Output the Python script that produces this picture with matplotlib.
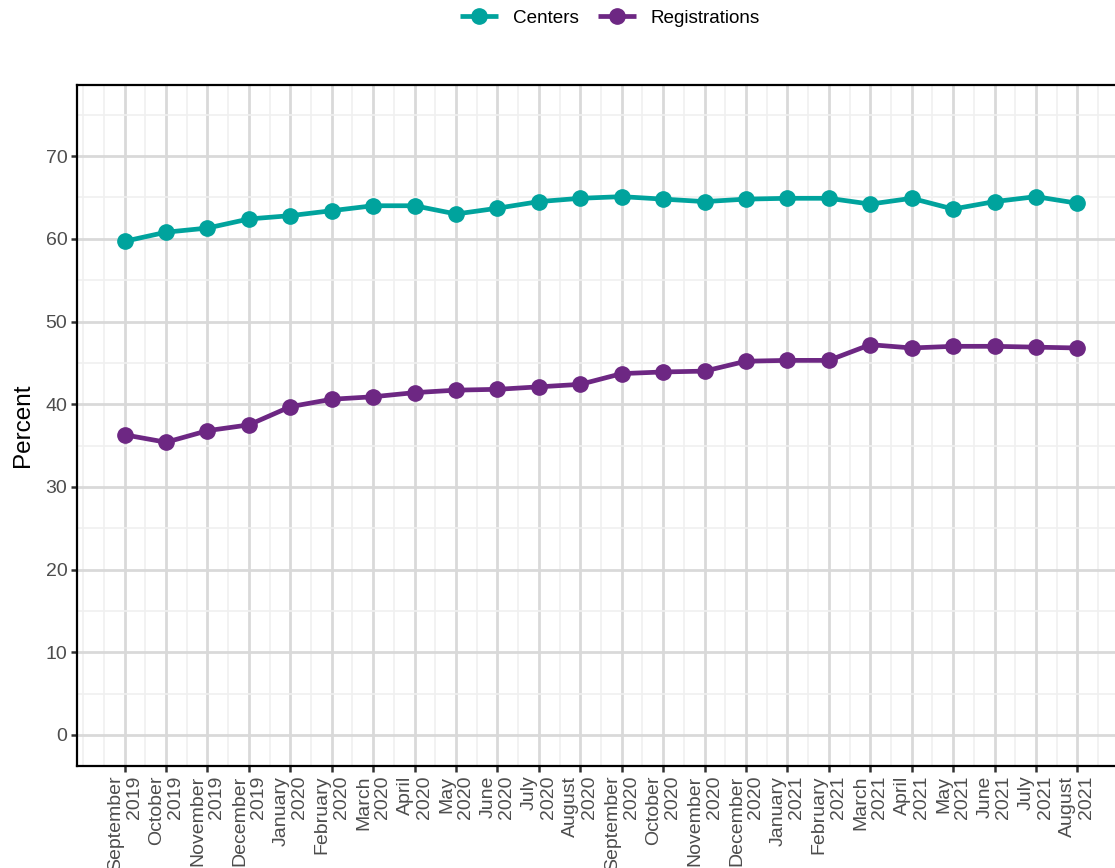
import numpy as np
import matplotlib
matplotlib.use("Agg")
import matplotlib.pyplot as plt
from matplotlib.ticker import FixedLocator

plt.rcParams['font.family'] = ['Liberation Sans', 'DejaVu Sans']

# month labels, two lines each
months = ["September", "October", "November", "December", "January", "February",
          "March", "April", "May", "June", "July", "August",
          "September", "October", "November", "December", "January", "February",
          "March", "April", "May", "June", "July", "August"]
years = ["2019"] * 4 + ["2020"] * 12 + ["2021"] * 8
tick_labels = [m + "\n" + y for m, y in zip(months, years)]

centers = [59.7, 60.8, 61.3, 62.4, 62.8, 63.4, 64.0, 64.0, 63.0, 63.7, 64.5, 64.9,
           65.1, 64.8, 64.5, 64.8, 64.9, 64.9, 64.2, 64.9, 63.6, 64.5, 65.1, 64.3]
registrations = [36.3, 35.4, 36.8, 37.5, 39.7, 40.6, 40.9, 41.4, 41.7, 41.8, 42.1, 42.4,
                 43.7, 43.9, 44.0, 45.2, 45.3, 45.3, 47.2, 46.8, 47.0, 47.0, 46.9, 46.8]

teal = "#00a39d"
purple = "#6d2783"

W, H = 1115, 868
fig = plt.figure(figsize=(W / 100, H / 100), dpi=100)
# plot panel runs a little past the right edge of the figure
ax = fig.add_axes([77 / W, (H - 766) / H, (1125 - 77) / W, (766 - 85) / H])

x = np.arange(len(months))
ax.plot(x, centers, color=teal, lw=3.4, marker="o", ms=11, label="Centers",
        solid_capstyle="butt", zorder=3)
ax.plot(x, registrations, color=purple, lw=3.4, marker="o", ms=11, label="Registrations",
        solid_capstyle="butt", zorder=3)

ax.set_xlim(-1.15, 24.15)
ax.set_ylim(-3.75, 78.6)

ax.set_xticks(x)
ax.set_xticklabels(tick_labels, rotation=90, ha="center", va="top",
                   multialignment="right", linespacing=1.15)
ax.xaxis.set_minor_locator(FixedLocator([-1] + list(np.arange(-0.5, 24.5, 1.0)) + [24]))
ax.set_yticks(np.arange(0, 80, 10))
ax.yaxis.set_minor_locator(FixedLocator(np.arange(5, 80, 10)))

ax.grid(which="major", color="#d9d9d9", lw=2.0, zorder=0)
ax.grid(which="minor", color="#f0f0f0", lw=1.2, zorder=0)
ax.set_axisbelow(True)

ax.tick_params(axis="both", which="major", length=4, width=1.8, color="#333333",
               labelsize=14, labelcolor="#4d4d4d", pad=3)
ax.tick_params(axis="both", which="minor", length=0)

for side in ["left", "bottom", "top", "right"]:
    ax.spines[side].set_linewidth(1.6)
    ax.spines[side].set_color("black")

ax.set_ylabel("Percent", fontsize=17.5, color="black", labelpad=8)

fig.legend(loc="center", bbox_to_anchor=(610 / W, 1 - 18 / H), ncol=2, frameon=False,
           fontsize=13.6, handlelength=2.0, handletextpad=0.8, columnspacing=1.0)

fig.savefig("out.png", dpi=100)
